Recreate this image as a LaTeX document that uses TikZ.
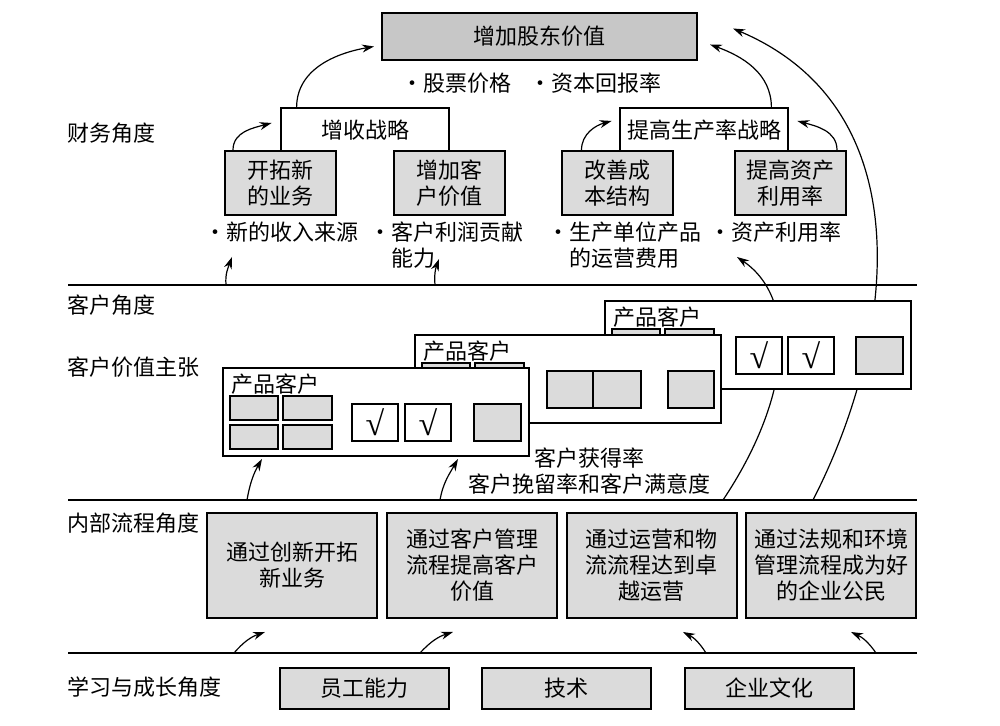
\documentclass[tikz,border=0pt]{standalone}
\usepackage{fontspec}
\setmainfont{Noto Sans CJK SC}
\newfontfamily\chkfont{Liberation Serif}
\usetikzlibrary{arrows.meta}
\newcommand{\bul}{·}
\newcommand{\ok}{{\chkfont\fontsize{17}{17}\selectfont √}}

\begin{document}
\begin{tikzpicture}[x=0.5pt,y=0.5pt,
  font=\fontsize{11}{13}\selectfont,
  tbox/.style={draw, line width=1pt, inner sep=0pt, align=center},
  gbox/.style={tbox, fill=black!14},
  card/.style={draw, line width=1pt, fill=white, minimum width=153pt, minimum height=44pt, inner sep=0pt},
  chk/.style={draw, line width=1pt, fill=white, minimum width=23pt, minimum height=18.5pt, inner sep=0pt},
  gsq/.style={draw, line width=1pt, fill=black!14},
  lbl/.style={anchor=west, inner sep=0pt},
  arr/.style={-{Stealth[length=6pt,width=4pt]}, line width=0.6pt},
  sepline/.style={line width=1pt}]
\useasboundingbox (0,0) rectangle (1000,726);

% perspective rules and labels
\draw[sepline] (68,441) -- (917,441);
\draw[sepline] (68,226) -- (917,226);
\draw[sepline] (68,73) -- (917,73);
\node[lbl] (cw) at (67,593) {财务角度};
\node[lbl] (kh) at (67,421) {客户角度};
\node[lbl] (jz) at (67,359) {客户价值主张};
\node[lbl] (nb) at (67,203) {内部流程角度};
\node[lbl] (xx) at (67,39) {学习与成长角度};

% financial perspective
\node[gbox, fill=black!22, minimum width=157.5pt, minimum height=23.5pt] (zj) at (539.5,689.5) {增加股东价值};
\node[lbl] (gp) at (401,643) {\bul 股票价格};
\node[lbl] (zb) at (529,643) {\bul 资本回报率};
\node[minimum width=84pt, minimum height=22pt, inner sep=0pt] (zs) at (365,596) {增收战略};
\draw[line width=1pt] (zs.south west) |- (zs.north east) -- (zs.south east);
\node[minimum width=84pt, minimum height=22pt, inner sep=0pt] (sl) at (704,596) {提高生产率战略};
\draw[line width=1pt] (sl.south west) |- (sl.north east) -- (sl.south east);
\node[gbox, minimum width=55.5pt, minimum height=32pt] (kt) at (280.5,543) {开拓新\\的业务};
\node[gbox, minimum width=55.5pt, minimum height=32pt] (zk) at (449,543) {增加客\\户价值};
\node[gbox, minimum width=55.5pt, minimum height=32pt] (gs) at (617,543) {改善成\\本结构};
\node[gbox, minimum width=55.5pt, minimum height=32pt] (tz) at (790.5,543) {提高资产\\利用率};
\node[lbl] (b1) at (204,494) {\bul 新的收入来源};
\node[anchor=north west, inner sep=0pt, align=left] (b2) at (369,505) {\bul 客户利润贡献\\\phantom{\bul}能力};
\node[anchor=north west, inner sep=0pt, align=left] (b3) at (547,505) {\bul 生产单位产品\\\phantom{\bul}的运营费用};
\node[lbl] (b4) at (709,494) {\bul 资产利用率};

\draw[arr] ([xshift=4.5pt]kt.north west) to[out=90,in=195] ([xshift=-4.5pt,yshift=3.5pt]zs.west);
\draw[arr] ([xshift=10.5pt]gs.north west) to[out=90,in=195] ([xshift=-4pt,yshift=4.5pt]sl.west);
\draw[arr] ([xshift=-5pt]tz.north east) to[out=90,in=-15] ([xshift=4.5pt,yshift=4.5pt]sl.east);
\draw[arr] ([xshift=8pt]zs.north west) to[out=90,in=190] ([xshift=-3.5pt,yshift=-5pt]zj.west);
\draw[arr] ([xshift=-8.5pt]sl.north east) to[out=90,in=-20] ([xshift=6pt,yshift=-4pt]zj.east);

% customer perspective
\coordinate (c1a) at (226,441); \coordinate (c1b) at (232,469);
\coordinate (c2a) at (435,441); \coordinate (c2b) at (439,467);
\coordinate (c3a) at (723,226); \coordinate (c3b) at (737,469);
\coordinate (c4a) at (813,226);
\draw[arr] (c1a) to[out=95,in=-110] (c1b);
\draw[arr] (c2a) to[out=95,in=-110] (c2b);
\draw[arr] (c3a) .. controls (790,326) and (800,426) .. (c3b);
\draw[arr] (c4a) .. controls (895,386) and (925,616) .. ([xshift=17.5pt,yshift=4pt]zj.east);

\node[card] (k3) at (758,381) {};
\begin{scope}[shift={(k3.north west)}]
\node[lbl] (t3) at (9,-17) {产品客户};
\draw[gsq] (8,-29) rectangle (56,-53);
\draw[gsq] (61,-29) rectangle (110,-53);
\node[chk] (v3a) at (155,-55.5) {\ok};
\node[chk] (v3b) at (207,-55.5) {\ok};
\draw[gsq] (252,-37) rectangle (299,-74);
\end{scope}

\node[card] (k2) at (568,347) {};
\begin{scope}[shift={(k2.north west)}]
\node[lbl] (t2) at (9,-17) {产品客户};
\draw[gsq] (8,-29) rectangle (56,-53);
\draw[gsq] (61,-29) rectangle (110,-53);
\draw[gsq] (133,-37) rectangle (179,-74);
\draw[gsq] (179,-37) rectangle (227,-74);
\draw[gsq] (254,-37) rectangle (300,-74);
\end{scope}

\node[card] (k1) at (376,314) {};
\begin{scope}[shift={(k1.north west)}]
\node[lbl] (t1) at (9,-17) {产品客户};
\draw[gsq] (8,-29) rectangle (56,-53);
\draw[gsq] (61,-29) rectangle (110,-53);
\draw[gsq] (8,-58) rectangle (56,-82);
\draw[gsq] (61,-58) rectangle (110,-82);
\node[chk] (v1a) at (153,-55.5) {\ok};
\node[chk] (v1b) at (206,-55.5) {\ok};
\draw[gsq] (252,-37) rectangle (299,-74);
\end{scope}

\node[align=center, inner sep=0pt] (hl) at (589,255) {客户获得率\\客户挽留率和客户满意度};

\coordinate (i1a) at (247,226); \coordinate (i2a) at (440,226);
\draw[arr] (i1a) to[out=80,in=-120] ([xshift=20pt,yshift=-1pt]k1.south west);
\draw[arr] (i2a) to[out=80,in=-120] ([xshift=118pt,yshift=-1pt]k1.south west);

% internal process perspective
\node[gbox, minimum width=85pt, minimum height=52.5pt] (p1) at (292,160.5) {通过创新开拓\\新业务};
\node[gbox, minimum width=85pt, minimum height=52.5pt] (p2) at (472,160.5) {通过客户管理\\流程提高客户\\价值};
\node[gbox, minimum width=85pt, minimum height=52.5pt] (p3) at (651.5,160.5) {通过运营和物\\流流程达到卓\\越运营};
\node[gbox, minimum width=85pt, minimum height=52.5pt] (p4) at (831,160.5) {通过法规和环境\\管理流程成为好\\的企业公民};

\coordinate (n1a) at (234,73); \coordinate (n1b) at (265,94);
\coordinate (n2a) at (420,73); \coordinate (n2b) at (453,94);
\coordinate (n3a) at (706,73); \coordinate (n3b) at (683,94);
\coordinate (n4a) at (876,73); \coordinate (n4b) at (851,94);
\draw[arr] (n1a) to[bend left=15] (n1b);
\draw[arr] (n2a) to[bend left=15] (n2b);
\draw[arr] (n3a) to[bend right=15] (n3b);
\draw[arr] (n4a) to[bend right=15] (n4b);

% learning and growth perspective
\node[gbox, minimum width=84.5pt, minimum height=20.5pt] (yg) at (364,37.5) {员工能力};
\node[gbox, minimum width=84.5pt, minimum height=20.5pt] (js) at (566.5,37.5) {技术};
\node[gbox, minimum width=84.5pt, minimum height=20.5pt] (qy) at (769.5,37.5) {企业文化};
\end{tikzpicture}
\end{document}
